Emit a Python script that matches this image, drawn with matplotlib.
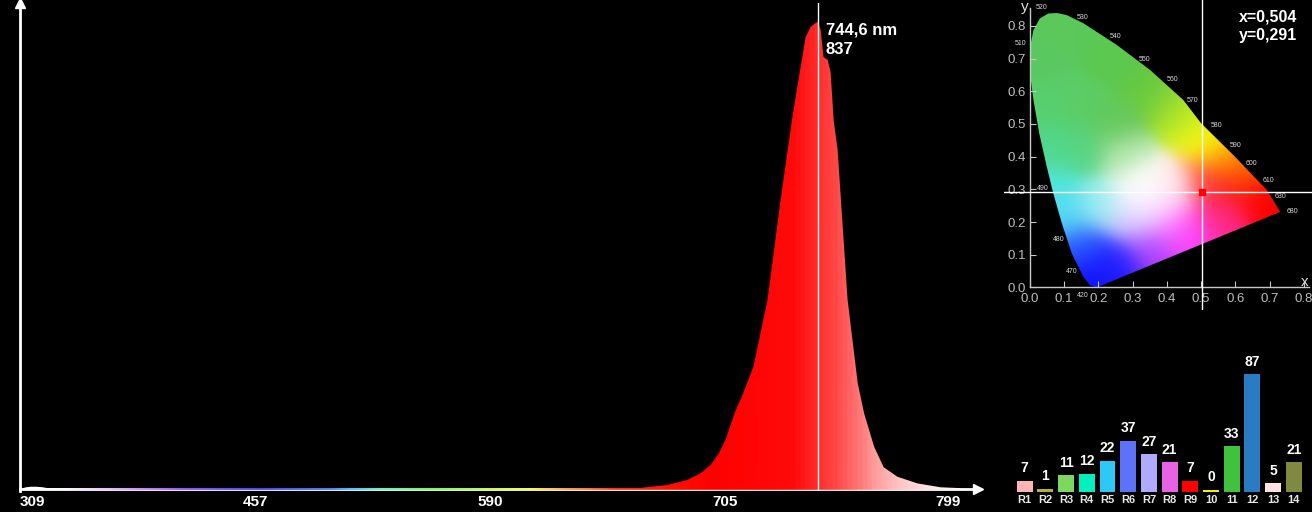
import numpy as np
import matplotlib
matplotlib.use("Agg")
import matplotlib.pyplot as plt
from matplotlib.colors import LinearSegmentedColormap, to_rgb
from matplotlib.path import Path
from matplotlib.patches import PathPatch

plt.rcParams['font.family'] = ['Liberation Sans', 'DejaVu Sans']

# --- spectrum ---
wavelength = [309, 311, 313, 316, 320, 324, 327, 340, 400, 500, 600, 640,
              665.7, 678.3, 687.6, 693.7, 698.3, 702.0, 705.0, 708.0, 710.2,
              711.7, 717.3, 723.4, 729.0, 734.1, 739.5, 741.6, 743.6, 744.6,
              745.7, 746.9, 748.6, 749.8, 751.0, 752.6, 756.6, 760.6, 763.1,
              767.0, 770.7, 775.9, 783.4, 791.9, 799.0]
intensity = [3, 1.5, 3, 4, 4, 3, 1.5, 1.5, 1.5, 1.5, 1.5, 1.5,
             2, 7, 16, 28, 43, 64, 88, 124, 148,
             160, 219, 339, 518, 670, 810, 828, 835, 837,
             823, 774, 769, 746, 661, 608, 339, 190, 136,
             76, 39, 22, 10, 3, 1.5]
axis_ticks = [309, 457, 590, 705, 799]
peak_wl = 744.6
peak_val = 837

# --- chromaticity ---
cie_point = (0.504, 0.291)
locus_x = [0.195, 0.175, 0.156, 0.122, 0.093, 0.068, 0.049, 0.027, 0.010, 0.002,
           0.0, 0.003, 0.010, 0.029, 0.054, 0.080, 0.107, 0.156, 0.253, 0.351,
           0.448, 0.500, 0.594, 0.692, 0.731]
locus_y = [0.0, 0.007, 0.032, 0.104, 0.196, 0.288, 0.369, 0.471, 0.573, 0.64,
           0.700, 0.750, 0.787, 0.823, 0.838, 0.839, 0.833, 0.808, 0.742, 0.665,
           0.573, 0.502, 0.405, 0.298, 0.231]
nm_labels = ['520', '530', '540', '550', '560', '570', '580', '590', '600',
             '610', '630', '680', '510', '490', '480', '470', '420']
nm_x = [0.034, 0.154, 0.251, 0.336, 0.416, 0.475, 0.546, 0.600, 0.647,
        0.696, 0.733, 0.767, -0.029, 0.037, 0.084, 0.122, 0.154]
nm_y = [0.855, 0.826, 0.766, 0.698, 0.635, 0.571, 0.495, 0.435, 0.380,
        0.327, 0.278, 0.232, 0.746, 0.302, 0.148, 0.048, -0.026]

# colour of the diagram at a few spots, as seen in the picture
tint_x = [0.10, 0.25, 0.35, 0.15, 0.05, 0.03, 0.15, 0.25,
          0.42, 0.47, 0.52, 0.58, 0.62, 0.60, 0.70, 0.52,
          0.55, 0.45, 0.35, 0.40,
          0.25, 0.18, 0.15,
          0.10, 0.07, 0.06, 0.20,
          0.33, 0.37, 0.28, 0.42, 0.30, 0.32]
tint_y = [0.78, 0.70, 0.60, 0.55, 0.55, 0.68, 0.42, 0.50,
          0.55, 0.50, 0.44, 0.40, 0.36, 0.30, 0.27, 0.32,
          0.22, 0.17, 0.12, 0.22,
          0.07, 0.03, 0.12,
          0.22, 0.30, 0.42, 0.25,
          0.31, 0.28, 0.40, 0.31, 0.20, 0.25]
tint_c = ['#5ac85a', '#5cc850', '#66c840', '#5ccc66', '#58d070', '#5ac862',
          '#58d480', '#64c85a',
          '#98dc30', '#d0f020', '#ffff10', '#ffb000', '#ff6000', '#ff1010',
          '#ff0000', '#ff3838',
          '#ff2a90', '#ff40ff', '#b040ff', '#ffa0ff',
          '#2020ff', '#1010ff', '#2a5aff',
          '#50d8f8', '#50e8e0', '#50d890', '#a0f0f0',
          '#ffffff', '#ffffff', '#b8e8b0', '#ffe8e8', '#c8c0ff', '#ffffff']

# --- colour rendering indices ---
cri_names = ['R1', 'R2', 'R3', 'R4', 'R5', 'R6', 'R7', 'R8', 'R9',
             '10', '11', '12', '13', '14']
cri_values = [7, 1, 11, 12, 22, 37, 27, 21, 7, 0, 33, 87, 5, 21]
cri_colors = ['#ffb3b3', '#b8b030', '#7ed860', '#00f0c0', '#2ec8f6', '#5c72f8',
              '#b0aaff', '#e862e6', '#ff0000', '#f2f000', '#40c23c', '#2a7cc2',
              '#ffe0e0', '#7f8a40']

fig = plt.figure(figsize=(13.12, 5.12), dpi=100, facecolor='black')
W, H = 1312, 512

# ================= spectrum =================
ax = fig.add_axes([20 / W, (H - 491.2) / H, 958 / W, 488.2 / H])
ax.set_facecolor('black')

# the wavelength axis of the instrument is not linear: ticks are evenly spaced
coef = np.polyfit(np.arange(5), axis_ticks, 3)
grid_t = np.linspace(-0.3, 4.4, 800)
grid_wl = np.polyval(coef, grid_t)


def fwd(w):
    return np.interp(w, grid_wl, grid_t)


def inv(t):
    return np.polyval(coef, t)


ax.set_xscale('function', functions=(fwd, inv))

stops = [(309, '#ffffff'), (335, '#ffffff'), (361, '#f0c0ff'), (411, '#9040ff'),
         (460, '#3030ff'), (500, '#3070ff'), (513, '#30c0ff'), (530, '#40ffc0'),
         (558, '#60ff40'), (590, '#c0ff30'), (611, '#ffff30'), (628, '#ffa030'),
         (653, '#ff3010'), (680, '#ff1000'), (700, '#ff0000'), (735, '#ff0a0a'),
         (744.6, '#ff2a2a'), (752, '#ff4444'), (760, '#ff6c6c'), (768, '#ff9a9a'),
         (778, '#ffc6c6'), (790, '#ffe6e6'), (805, '#ffffff')]
spec_cmap = LinearSegmentedColormap.from_list(
    'spec', [((w - 309) / (805 - 309), c) for w, c in stops])
grad = np.linspace(0, 1, 1000).reshape(1, -1)
im = ax.imshow(grad, extent=(309, 805, -1.5, 871), aspect='auto',
               cmap=spec_cmap, origin='lower', zorder=3, interpolation='bilinear')
poly = ax.fill_between(wavelength, -1.5, intensity, color='none', lw=0)
im.set_clip_path(poly.get_paths()[0], transform=ax.transData)

ax.axvline(peak_wl, color='white', lw=1, zorder=4)
ax.annotate('744,6 nm', xy=(peak_wl, peak_val), xytext=(8, -8),
            textcoords='offset pixels', color='white', fontsize=12,
            fontweight='bold', va='center', ha='left')
ax.annotate(f'{peak_val}', xy=(peak_wl, peak_val), xytext=(8, -28),
            textcoords='offset pixels', color='white', fontsize=12,
            fontweight='bold', va='center', ha='left')

ax.set_xlim(309, 805)
ax.set_ylim(-4, 871)
for s in ['top', 'right']:
    ax.spines[s].set_visible(False)
ax.spines['left'].set_color('white')
ax.spines['left'].set_linewidth(2)
ax.spines['bottom'].set_color('white')
ax.spines['bottom'].set_linewidth(2)
ax.spines['bottom'].set_position(('data', 0))
ax.set_yticks([])
ax.set_xticks(axis_ticks)
ax.set_xticklabels([str(t) for t in axis_ticks])
ax.tick_params(axis='x', length=0, pad=4, labelcolor='white', labelsize=11)
for lab in ax.get_xticklabels():
    lab.set_fontweight('bold')
ax.get_xticklabels()[0].set_ha('left')
ax.get_xticklabels()[-1].set_ha('right')
ax.plot(1, 0, marker='>', ms=7, color='white',
        transform=ax.get_yaxis_transform(), clip_on=False)
ax.plot(309, 1, marker='^', ms=7, color='white',
        transform=ax.get_xaxis_transform(), clip_on=False)

# ================= chromaticity diagram =================
cx = fig.add_axes([1004 / W, (H - 310) / H, 308 / W, 310 / H])
cx.set_facecolor('black')

gx, gy = np.meshgrid(np.linspace(0, 0.8, 320), np.linspace(0, 0.9, 360))
d2 = (gx[..., None] - np.array(tint_x)) ** 2 + (gy[..., None] - np.array(tint_y)) ** 2
wts = np.exp(-d2 / (2 * 0.05 ** 2)) + 1e-12
cols = np.array([to_rgb(c) for c in tint_c])
rgb = np.einsum('hwk,kc->hwc', wts, cols) / wts.sum(axis=2, keepdims=True)
cim = cx.imshow(np.clip(rgb, 0, 1), extent=(0, 0.8, 0, 0.9), origin='lower',
                aspect='auto', interpolation='bilinear', zorder=1)
locus = PathPatch(Path(np.column_stack([locus_x + [locus_x[0]],
                                        locus_y + [locus_y[0]]]), closed=True),
                  transform=cx.transData, facecolor='none', edgecolor='none')
cx.add_patch(locus)
cim.set_clip_path(locus)

for lab, lx, ly in zip(nm_labels, nm_x, nm_y):
    cx.text(lx, ly, lab, fontsize=5, color='#d8d8d8', ha='center', va='center')

cx.axvline(cie_point[0], color='white', lw=1, zorder=4)
cx.axhline(cie_point[1], color='white', lw=1, zorder=4)
cx.plot(*cie_point, marker='s', ms=4, color='red', zorder=5)
cx.text(0.952, 0.945, f'x={cie_point[0]:.3f}'.replace('.', ','),
        transform=cx.transAxes, ha='right', va='center', color='white',
        fontsize=11.5, fontweight='bold')
cx.text(0.952, 0.884, f'y={cie_point[1]:.3f}'.replace('.', ','),
        transform=cx.transAxes, ha='right', va='center', color='white',
        fontsize=11.5, fontweight='bold')

cx.set_xlim(-0.076, 0.824)
cx.set_ylim(-0.069, 0.879)
for s in ['top', 'right']:
    cx.spines[s].set_visible(False)
for s in ['left', 'bottom']:
    cx.spines[s].set_color('#c8c8c8')
    cx.spines[s].set_linewidth(1)
    cx.spines[s].set_position(('data', 0))
cx.spines['left'].set_bounds(0, 0.855)
cx.spines['bottom'].set_bounds(0, 0.815)
ticks = np.round(np.arange(0, 0.81, 0.1), 1)
cx.set_xticks(ticks)
cx.set_yticks(ticks)
cx.set_xticklabels([f'{t:.1f}' for t in ticks])
cx.set_yticklabels([f'{t:.1f}' for t in ticks])
cx.tick_params(direction='in', length=4, color='#c8c8c8', labelcolor='#bdbdbd',
               labelsize=9.5)
cx.tick_params(axis='x', pad=4)
cx.tick_params(axis='y', pad=3)
cx.text(-0.016, 0.858, 'y', color='#dddddd', fontsize=11, ha='center', va='center')
cx.text(0.803, 0.017, 'x', color='#dddddd', fontsize=11, ha='center', va='center')

# ================= CRI bars =================
bx = fig.add_axes([1014.35 / W, (H - 492) / H, 289.8 / W, 135 / H])
bx.set_facecolor('black')
pos = np.arange(len(cri_values))
bars = bx.bar(pos, np.array(cri_values) + 1.5, bottom=-1.5, width=0.77,
              color=cri_colors)
bx.bar_label(bars, labels=[str(v) for v in cri_values], padding=4,
             color='white', fontsize=10, fontweight='bold')
bx.set_xlim(-0.5, len(cri_values) - 0.5)
bx.set_ylim(-1.5, 100)
bx.set_xticks(pos)
bx.set_xticklabels(cri_names)
bx.set_yticks([])
bx.tick_params(axis='x', length=0, pad=2, labelcolor='#e8e8e8', labelsize=8)
for lab in bx.get_xticklabels():
    lab.set_fontweight('bold')
for s in bx.spines.values():
    s.set_visible(False)

fig.savefig('out.png', dpi=100, facecolor='black')
